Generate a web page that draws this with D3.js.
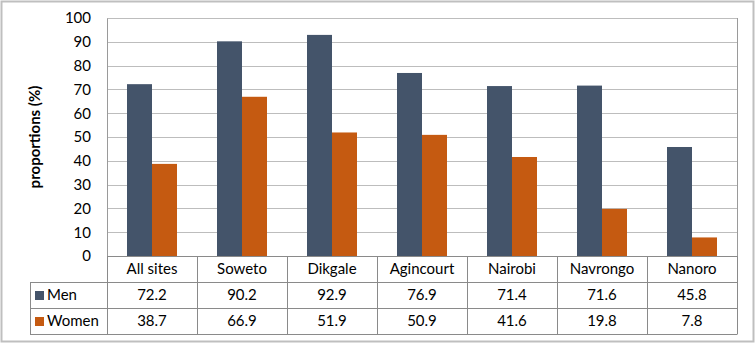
<!DOCTYPE html>
<html>
<head>
<meta charset="utf-8">
<script src="https://cdn.jsdelivr.net/npm/d3@7"></script>
<style>
  body { margin: 0; background: #fff; }
  text { font-family: Lato, 'Open Sans', sans-serif; fill: #000; }
</style>
</head>
<body>
<div id="chart"></div>
<script>
// DATA
var sites = ['All sites', 'Soweto', 'Dikgale', 'Agincourt', 'Nairobi', 'Navrongo', 'Nanoro']
var men = [72.2, 90.2, 92.9, 76.9, 71.4, 71.6, 45.8]
var women = [38.7, 66.9, 51.9, 50.9, 41.6, 19.8, 7.8]
var seriesNames = ['Men', 'Women']
var yTicks = [0, 10, 20, 30, 40, 50, 60, 70, 80, 90, 100]

// GLOBAL
var width = 755
var height = 343
var margin = {top: 18, left: 107, bottom: 87, right: 18}
var rowH = 26
var legendLeft = 30
var fontSize = '15px'
var colours = {Men: '#44546a', Women: '#c55a11'}

var svg = d3.select('#chart').append('svg')
  .attr('width', width)
  .attr('height', height)

// outer frame
svg.append('rect')
  .attr('x', 1.5).attr('y', 1.5)
  .attr('width', width - 3).attr('height', height - 3)
  .style('fill', 'none')
  .style('stroke', '#bfbfbf')
  .style('stroke-width', 2)

var xMap = d3.scaleBand()
  .domain(sites)
  .range([margin.left, width - margin.right])

var yMap = d3.scaleLinear()
  .domain([0, 100])
  .range([256, margin.top])

var inner = d3.scaleBand()
  .domain(seriesNames)
  .range([0, xMap.bandwidth()])
  .paddingOuter(0.8)
  .paddingInner(0)

// gridlines
svg.append('g')
  .selectAll('line')
  .data(yTicks)
  .enter().append('line')
  .attr('x1', margin.left)
  .attr('x2', width - margin.right)
  .attr('y1', d => Math.round(yMap(d)) + 0.5)
  .attr('y2', d => Math.round(yMap(d)) + 0.5)
  .style('stroke', '#bdbdbd')
  .style('stroke-width', 1)

// y axis
var yAxis = d3.axisLeft(yMap)
  .tickValues(yTicks)
  .tickSize(0)
  .tickPadding(16)

var gY = svg.append('g')
  .attr('transform', 'translate(' + [margin.left, 0] + ')')
  .call(yAxis)
gY.select('.domain').style('stroke', '#9a9a9a')
gY.selectAll('text')
  .style('font-family', 'Lato, sans-serif')
  .style('font-size', fontSize)
  .style('fill', '#000')

svg.append('text')
  .attr('transform', 'translate(' + [40, yMap(50)] + ') rotate(-90)')
  .style('text-anchor', 'middle')
  .style('font-size', fontSize)
  .style('font-weight', 'bold')
  .text('proportions (%)')

// right border of plot
svg.append('line')
  .attr('x1', width - margin.right + 0.5).attr('x2', width - margin.right + 0.5)
  .attr('y1', margin.top).attr('y2', yMap(0))
  .style('stroke', '#9a9a9a')

// bars
var rows = sites.map((s, i) => ({site: s, Men: men[i], Women: women[i]}))
var gBar = svg.append('g').selectAll('g')
  .data(rows)
  .enter().append('g')
  .attr('transform', d => 'translate(' + [xMap(d.site), 0] + ')')

gBar.selectAll('rect')
  .data(d => seriesNames.map(k => ({key: k, value: d[k]})))
  .enter().append('rect')
  .attr('x', d => inner(d.key))
  .attr('y', d => yMap(d.value))
  .attr('width', inner.bandwidth())
  .attr('height', d => yMap(0) - yMap(d.value))
  .style('fill', d => colours[d.key])

// data table
var tTop = yMap(0)
var tableStroke = '#8a8a8a'
var gT = svg.append('g')

// horizontal lines
var hLines = [
  {x1: margin.left, y: tTop},
  {x1: legendLeft, y: tTop + rowH},
  {x1: legendLeft, y: tTop + 2 * rowH},
  {x1: legendLeft, y: tTop + 3 * rowH}
]
gT.selectAll('.hl')
  .data(hLines)
  .enter().append('line')
  .attr('x1', d => d.x1)
  .attr('x2', width - margin.right + 0.5)
  .attr('y1', d => Math.round(d.y) + 0.5)
  .attr('y2', d => Math.round(d.y) + 0.5)
  .style('stroke', tableStroke)

// vertical lines
var vx = sites.map(s => xMap(s)).concat([width - margin.right])
gT.selectAll('.vl')
  .data(vx)
  .enter().append('line')
  .attr('x1', d => Math.round(d) + 0.5)
  .attr('x2', d => Math.round(d) + 0.5)
  .attr('y1', tTop)
  .attr('y2', tTop + 3 * rowH)
  .style('stroke', tableStroke)

gT.append('line')
  .attr('x1', legendLeft + 0.5).attr('x2', legendLeft + 0.5)
  .attr('y1', tTop + rowH).attr('y2', tTop + 3 * rowH)
  .style('stroke', tableStroke)

// category labels
gT.selectAll('.cat')
  .data(sites)
  .enter().append('text')
  .attr('x', d => xMap(d) + xMap.bandwidth() / 2)
  .attr('y', tTop + rowH / 2 + 5)
  .style('text-anchor', 'middle')
  .style('font-size', fontSize)
  .text(d => d)

// series rows
var series = [men, women]
seriesNames.forEach(function(name, r) {
  var yMid = tTop + rowH * (r + 1) + rowH / 2
  gT.append('rect')
    .attr('x', legendLeft + 5)
    .attr('y', yMid - 4)
    .attr('width', 9)
    .attr('height', 9)
    .style('fill', colours[name])
  gT.append('text')
    .attr('x', legendLeft + 17)
    .attr('y', yMid + 5)
    .style('font-size', fontSize)
    .text(name)
  gT.selectAll('.v' + r)
    .data(series[r])
    .enter().append('text')
    .attr('x', (d, i) => xMap(sites[i]) + xMap.bandwidth() / 2)
    .attr('y', yMid + 5)
    .style('text-anchor', 'middle')
    .style('font-size', fontSize)
    .text(d => d.toFixed(1))
})
</script>
</body>
</html>
